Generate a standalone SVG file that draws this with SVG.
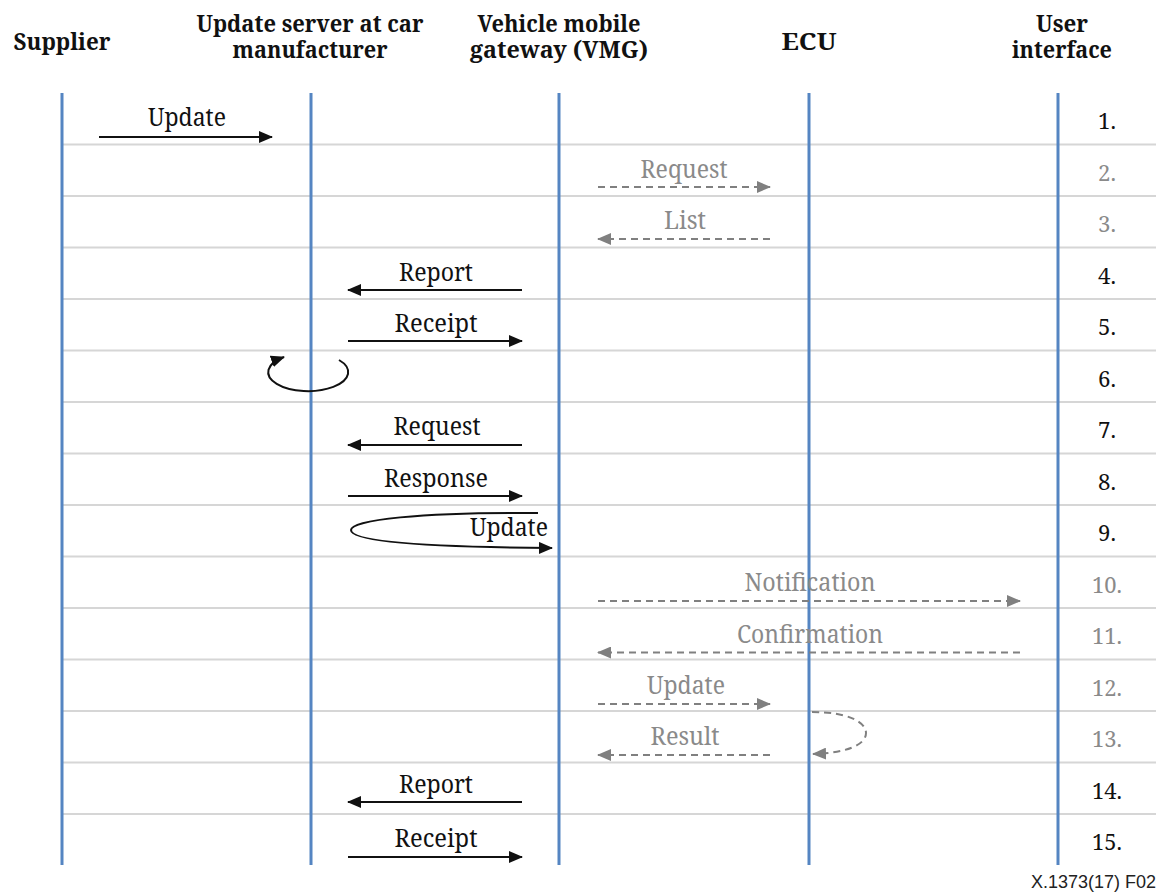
<svg xmlns="http://www.w3.org/2000/svg" width="1156" height="894" viewBox="0 0 1156 894">
  <style>
    text { font-family: "Noto Serif", "DejaVu Serif", serif; text-anchor: middle; }
    .hdr { font-weight: bold; font-size: 23px; fill: #111; }
    .lbl { font-size: 25px; fill: #111; }
    .lbl-g { font-size: 25px; fill: #8a8a8a; }
    .num { font-size: 21px; fill: #111; }
    .num-g { font-size: 21px; fill: #8a8a8a; }
    .life { stroke: #5585c2; stroke-width: 3; fill: none; }
    .sep { stroke: #d6d6d6; stroke-width: 2; fill: none; }
    .msg { stroke: #111; stroke-width: 2; fill: none; marker-end: url(#ah); }
    .msg-g { stroke: #808080; stroke-width: 2; fill: none; stroke-dasharray: 7 5; marker-end: url(#ahg); }
    text.foot { font-family: "Liberation Sans", Arial, sans-serif; font-size: 18px; fill: #222; text-anchor: start; }
  </style>
  <defs>
    <marker id="ah" viewBox="0 0 14 12" refX="13" refY="6" markerWidth="14" markerHeight="12" markerUnits="userSpaceOnUse" orient="auto">
      <path d="M0,0 L14,6 L0,12 z" fill="#111"/>
    </marker>
    <marker id="ahg" viewBox="0 0 14 12" refX="13" refY="6" markerWidth="14" markerHeight="12" markerUnits="userSpaceOnUse" orient="auto">
      <path d="M0,0 L14,6 L0,12 z" fill="#808080"/>
    </marker>
  </defs>
  <rect width="1156" height="894" fill="#fff"/>

  <!-- row separators -->
  <g id="rows">
    <line class="sep" x1="62" y1="144.5" x2="1156" y2="144.5"/>
    <line class="sep" x1="62" y1="196" x2="1156" y2="196"/>
    <line class="sep" x1="62" y1="247.5" x2="1156" y2="247.5"/>
    <line class="sep" x1="62" y1="299" x2="1156" y2="299"/>
    <line class="sep" x1="62" y1="350.5" x2="1156" y2="350.5"/>
    <line class="sep" x1="62" y1="402" x2="1156" y2="402"/>
    <line class="sep" x1="62" y1="453.5" x2="1156" y2="453.5"/>
    <line class="sep" x1="62" y1="505" x2="1156" y2="505"/>
    <line class="sep" x1="62" y1="556.5" x2="1156" y2="556.5"/>
    <line class="sep" x1="62" y1="608" x2="1156" y2="608"/>
    <line class="sep" x1="62" y1="659.5" x2="1156" y2="659.5"/>
    <line class="sep" x1="62" y1="711" x2="1156" y2="711"/>
    <line class="sep" x1="62" y1="762.5" x2="1156" y2="762.5"/>
    <line class="sep" x1="62" y1="814" x2="1156" y2="814"/>
  </g>

  <!-- participants with lifelines -->
  <g id="supplier">
    <text class="hdr" x="62" y="50" textLength="97" lengthAdjust="spacingAndGlyphs">Supplier</text>
    <line class="life" x1="62" y1="93" x2="62" y2="865"/>
  </g>
  <g id="update-server">
    <text class="hdr" x="310" y="32" textLength="227" lengthAdjust="spacingAndGlyphs">Update server at car</text>
    <text class="hdr" x="310" y="58" textLength="155" lengthAdjust="spacingAndGlyphs">manufacturer</text>
    <line class="life" x1="311" y1="93" x2="311" y2="865"/>
  </g>
  <g id="vmg">
    <text class="hdr" x="559" y="32" textLength="163" lengthAdjust="spacingAndGlyphs">Vehicle mobile</text>
    <text class="hdr" x="559" y="58" textLength="178" lengthAdjust="spacingAndGlyphs">gateway (VMG)</text>
    <line class="life" x1="559" y1="93" x2="559" y2="865"/>
  </g>
  <g id="ecu">
    <text class="hdr" x="809" y="50" textLength="55" lengthAdjust="spacingAndGlyphs">ECU</text>
    <line class="life" x1="809" y1="93" x2="809" y2="865"/>
  </g>
  <g id="user-interface">
    <text class="hdr" x="1062" y="32" textLength="52" lengthAdjust="spacingAndGlyphs">User</text>
    <text class="hdr" x="1062" y="58" textLength="100" lengthAdjust="spacingAndGlyphs">interface</text>
    <line class="life" x1="1058" y1="93" x2="1058" y2="865"/>
  </g>

  <!-- step numbers -->
  <g id="steps">
    <text class="num" x="1107" y="129" textLength="18" lengthAdjust="spacingAndGlyphs">1.</text>
    <text class="num-g" x="1107" y="180.5" textLength="18" lengthAdjust="spacingAndGlyphs">2.</text>
    <text class="num-g" x="1107" y="232" textLength="18" lengthAdjust="spacingAndGlyphs">3.</text>
    <text class="num" x="1107" y="283.5" textLength="18" lengthAdjust="spacingAndGlyphs">4.</text>
    <text class="num" x="1107" y="335" textLength="18" lengthAdjust="spacingAndGlyphs">5.</text>
    <text class="num" x="1107" y="386.5" textLength="18" lengthAdjust="spacingAndGlyphs">6.</text>
    <text class="num" x="1107" y="438" textLength="18" lengthAdjust="spacingAndGlyphs">7.</text>
    <text class="num" x="1107" y="489.5" textLength="18" lengthAdjust="spacingAndGlyphs">8.</text>
    <text class="num" x="1107" y="541" textLength="18" lengthAdjust="spacingAndGlyphs">9.</text>
    <text class="num-g" x="1107" y="592.5" textLength="30" lengthAdjust="spacingAndGlyphs">10.</text>
    <text class="num-g" x="1107" y="644" textLength="30" lengthAdjust="spacingAndGlyphs">11.</text>
    <text class="num-g" x="1107" y="695.5" textLength="30" lengthAdjust="spacingAndGlyphs">12.</text>
    <text class="num-g" x="1107" y="747" textLength="30" lengthAdjust="spacingAndGlyphs">13.</text>
    <text class="num" x="1107" y="798.5" textLength="30" lengthAdjust="spacingAndGlyphs">14.</text>
    <text class="num" x="1107" y="850" textLength="30" lengthAdjust="spacingAndGlyphs">15.</text>
  </g>

  <!-- messages -->
  <g id="connectors">
    <line class="msg" x1="99" y1="137" x2="272" y2="137"/>
    <text class="lbl" x="187" y="126" textLength="78" lengthAdjust="spacingAndGlyphs">Update</text>

    <line class="msg-g" x1="598" y1="187" x2="770" y2="187"/>
    <text class="lbl-g" x="684" y="177.5" textLength="87" lengthAdjust="spacingAndGlyphs">Request</text>

    <line class="msg-g" x1="770" y1="239" x2="598" y2="239"/>
    <text class="lbl-g" x="685" y="229" textLength="42" lengthAdjust="spacingAndGlyphs">List</text>

    <line class="msg" x1="522" y1="290" x2="348" y2="290"/>
    <text class="lbl" x="436" y="280.5" textLength="74" lengthAdjust="spacingAndGlyphs">Report</text>

    <line class="msg" x1="348" y1="341" x2="522" y2="341"/>
    <text class="lbl" x="436" y="332" textLength="83" lengthAdjust="spacingAndGlyphs">Receipt</text>

    <path class="msg" d="M339,360 A40,19 0 1 1 284,357"/>

    <line class="msg" x1="522" y1="445" x2="348" y2="445"/>
    <text class="lbl" x="437" y="435" textLength="87" lengthAdjust="spacingAndGlyphs">Request</text>

    <line class="msg" x1="348" y1="496" x2="522" y2="496"/>
    <text class="lbl" x="436" y="486.5" textLength="104" lengthAdjust="spacingAndGlyphs">Response</text>

    <path class="msg" d="M538,513 C420,512 351,520 351,530 C351,541 420,547 552,548"/>
    <text class="lbl" x="509" y="536" textLength="78" lengthAdjust="spacingAndGlyphs">Update</text>

    <line class="msg-g" x1="598" y1="601" x2="1020" y2="601"/>
    <text class="lbl-g" x="810" y="591" textLength="131" lengthAdjust="spacingAndGlyphs">Notification</text>

    <line class="msg-g" x1="1020" y1="652.5" x2="598" y2="652.5"/>
    <text class="lbl-g" x="810" y="643" textLength="146" lengthAdjust="spacingAndGlyphs">Confirmation</text>

    <line class="msg-g" x1="598" y1="704" x2="770" y2="704"/>
    <text class="lbl-g" x="686" y="694" textLength="78" lengthAdjust="spacingAndGlyphs">Update</text>

    <path class="msg-g" d="M812,712 C848,712 866,722 866,733 C866,745 846,753 813,754"/>

    <line class="msg-g" x1="770" y1="755" x2="598" y2="755"/>
    <text class="lbl-g" x="685" y="745" textLength="69" lengthAdjust="spacingAndGlyphs">Result</text>

    <line class="msg" x1="522" y1="802" x2="348" y2="802"/>
    <text class="lbl" x="436" y="793" textLength="74" lengthAdjust="spacingAndGlyphs">Report</text>

    <line class="msg" x1="348" y1="857" x2="522" y2="857"/>
    <text class="lbl" x="436" y="847" textLength="83" lengthAdjust="spacingAndGlyphs">Receipt</text>
  </g>

  <text class="foot" x="1031" y="888">X.1373(17) F02</text>
</svg>
